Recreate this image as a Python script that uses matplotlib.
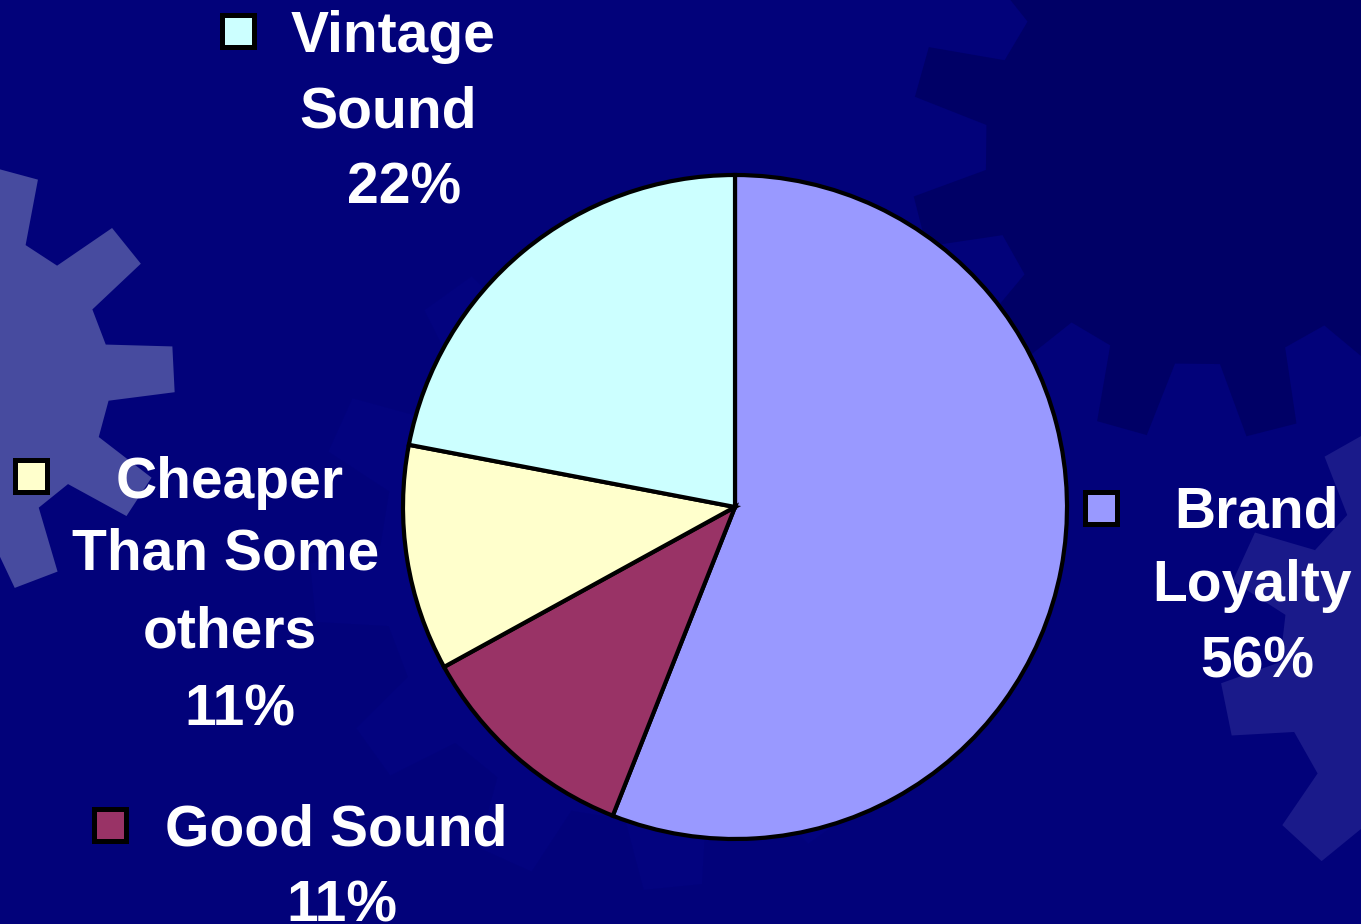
import numpy as np
import matplotlib
matplotlib.use("Agg")
import matplotlib.pyplot as plt
from matplotlib.patches import Polygon, Rectangle

# ---- data ----
categories = ["Brand Loyalty", "Good Sound", "Cheaper Than Some others", "Vintage Sound"]
values = [56, 11, 11, 22]
colors = ["#9999ff", "#993366", "#ffffcc", "#ccffff"]
label_lines = [["Brand", "Loyalty", "56%"],
               ["Good Sound", "11%"],
               ["Cheaper", "Than Some", "others", "11%"],
               ["Vintage", "Sound", "22%"]]

W, H = 1361, 924
fig = plt.figure(figsize=(W / 100, H / 100), dpi=100)
fig.patch.set_facecolor("#02027a")
ax = fig.add_axes([0, 0, 1, 1])
ax.set_xlim(0, W)
ax.set_ylim(0, H)
ax.set_aspect("equal")
ax.axis("off")


def Y(py):
    return H - py


def gear(cx, cy, r_out, r_in, n, phase, color, z=0):
    pts = []
    step = 2 * np.pi / n
    for i in range(n):
        a = phase + i * step
        pts.append((cx + r_in * np.cos(a - 0.30 * step), Y(cy) + r_in * np.sin(a - 0.30 * step)))
        pts.append((cx + r_out * np.cos(a - 0.17 * step), Y(cy) + r_out * np.sin(a - 0.17 * step)))
        pts.append((cx + r_out * np.cos(a + 0.17 * step), Y(cy) + r_out * np.sin(a + 0.17 * step)))
        pts.append((cx + r_in * np.cos(a + 0.30 * step), Y(cy) + r_in * np.sin(a + 0.30 * step)))
    ax.add_patch(Polygon(pts, closed=True, facecolor=color, edgecolor="none", zorder=z))


# background decoration gears
gear(1200, 150, 290, 215, 12, 0.25, "#000066", 0)
gear(640, 560, 330, 260, 12, 0.1, "#03037f", 0)
gear(-40, 380, 215, 150, 10, 0.05, "#474b9f", 1)
gear(1470, 660, 250, 190, 10, 0.2, "#1a1a8a", 1)

# ---- pie ----
cx, cy, r = 735, 507, 332
wedges, _ = ax.pie(values, colors=colors, startangle=90, counterclock=False,
                   center=(cx, Y(cy)), radius=r, frame=True,
                   wedgeprops=dict(edgecolor="black", linewidth=3.0, zorder=3))
ax.set_xlim(0, W)
ax.set_ylim(0, H)
ax.axis("off")

# ---- labels with legend keys ----
fs = 41
text_kw = dict(color="white", fontsize=fs, fontweight="bold",
               family=["Liberation Sans", "DejaVu Sans"], ha="center", va="baseline", zorder=5)

label_pos = {
    0: ([1257, 1252, 1257], [528, 601, 677], (1083, 489)),
    1: ([336, 342], [845, 921], (92, 806)),
    2: ([230, 226, 230, 240], [498, 570, 647, 726], (13, 457)),
    3: ([393, 388, 404], [52, 127, 204], (220, 12)),
}
for i, lines in enumerate(label_lines):
    xs, ys, (sx, sy) = label_pos[i]
    for t, x, y in zip(lines, xs, ys):
        ax.text(x, Y(y), t, **text_kw)
    ax.add_patch(Rectangle((sx + 2.5, Y(sy + 35)), 32, 32, facecolor=colors[i],
                           edgecolor="black", linewidth=3.6, zorder=5))

fig.savefig("out.png", dpi=100, facecolor=fig.get_facecolor())
